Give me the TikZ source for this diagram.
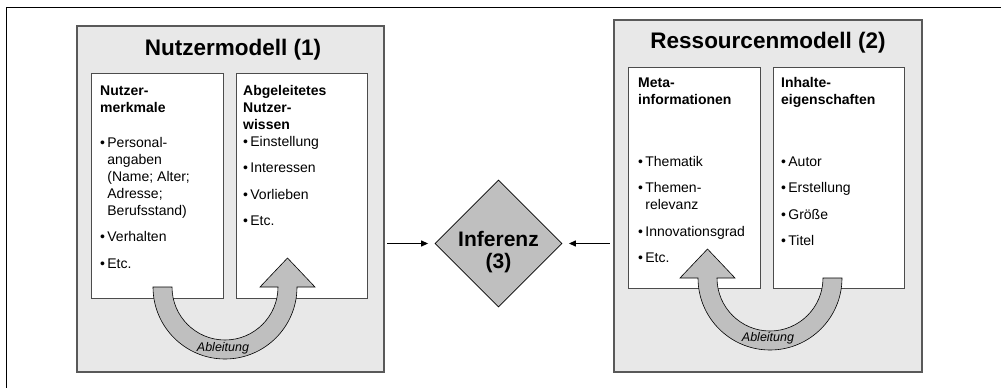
\documentclass[tikz,border=0pt]{standalone}
\usepackage{fontspec}
\setmainfont{Liberation Sans}
\usetikzlibrary{arrows.meta,shapes.geometric}
\newcommand{\boxhead}[1]{\multicolumn{2}{@{}l@{}}{\bfseries #1}}
\tikzset{
  panel/.style={draw=black!65, line width=1.5pt, fill=black!9, anchor=north west},
  infobox/.style={draw=black!70, line width=0.9pt, fill=white, anchor=north west},
  boxtext/.style={anchor=base west, inner sep=0pt, font=\fontsize{14}{17}\selectfont},
  paneltitle/.style={anchor=base, inner sep=0pt, font=\bfseries\fontsize{22.5}{27}\selectfont},
  ableitung/.style={draw=black, line width=0.6pt, fill=black!25},
  ablabel/.style={anchor=base, inner sep=0pt, font=\itshape\fontsize{12.5}{15}\selectfont},
  flow/.style={line width=1.2pt, -{Triangle[length=7pt,width=6pt]}},
}
\begin{document}
\begin{tikzpicture}[x=1pt,y=-1pt]
\clip (0,0) rectangle (1001,388);
% outer frame
\draw[line width=1pt] (6.5,7) rectangle (1010,400);
% panels
\node[panel, minimum width=307, minimum height=346] (lpanel) at (76,25) {};
\node[panel, minimum width=308, minimum height=352] (rpanel) at (613,19) {};
\node[paneltitle] (ltitle) at (233,55) {Nutzermodell (1)};
\node[paneltitle] (rtitle) at (768,48) {Ressourcenmodell (2)};
% inner boxes
\node[infobox, minimum width=132, minimum height=225] (merkmale) at (91,73) {};
\node[infobox, minimum width=131, minimum height=225] (wissen) at (236,73) {};
\node[infobox, minimum width=132, minimum height=221] (meta) at (628,67) {};
\node[infobox, minimum width=131, minimum height=221] (inhalte) at (773,67) {};
% box texts
\node[boxtext] (merkmaletxt) at (100,95) {\begin{tabular}[t]{@{}l@{\hspace{2.3pt}}l@{}}
\boxhead{Nutzer-}\\
\boxhead{merkmale}\\[18pt]
\textbullet & Personal-\\
 & angaben\\
 & (Name; Alter;\\
 & Adresse;\\
 & Berufsstand)\\[9.5pt]
\textbullet & Verhalten\\[9.5pt]
\textbullet & Etc.
\end{tabular}};
\node[boxtext] (wissentxt) at (243,95) {\begin{tabular}[t]{@{}l@{\hspace{2.3pt}}l@{}}
\boxhead{Abgeleitetes}\\
\boxhead{Nutzer-}\\
\boxhead{wissen}\\
\textbullet & Einstellung\\[9.5pt]
\textbullet & Interessen\\[9.5pt]
\textbullet & Vorlieben\\[9.5pt]
\textbullet & Etc.
\end{tabular}};
\node[boxtext] (metatxt) at (638,87) {\begin{tabular}[t]{@{}l@{\hspace{2.3pt}}l@{}}
\boxhead{Meta-}\\
\boxhead{informationen}\\[45pt]
\textbullet & Thematik\\[9.5pt]
\textbullet & Themen-\\
 & relevanz\\[9.5pt]
\textbullet & Innovationsgrad\\[9.5pt]
\textbullet & Etc.
\end{tabular}};
\node[boxtext] (inhaltetxt) at (781,87) {\begin{tabular}[t]{@{}l@{\hspace{2.3pt}}l@{}}
\boxhead{Inhalte-}\\
\boxhead{eigenschaften}\\[45pt]
\textbullet & Autor\\[9.5pt]
\textbullet & Erstellung\\[9.5pt]
\textbullet & Größe\\[9.5pt]
\textbullet & Titel
\end{tabular}};
% Ableitung arrows
\draw[ableitung] (153,287) arc[start angle=180, end angle=0, radius=72]
  -- (315,287) -- (287.5,258) -- (260,287) -- (278,287)
  arc[start angle=0, end angle=180, radius=53] -- cycle;
\draw[ableitung] (842,278) arc[start angle=0, end angle=180, radius=72]
  -- (680,278) -- (707.5,249) -- (735,278) -- (717,278)
  arc[start angle=180, end angle=0, radius=53] -- cycle;
\node[ablabel] (lablt) at (223,351.5) {Ableitung};
\node[ablabel] (rablt) at (768,341.5) {Ableitung};
% inference
\node[diamond, draw, line width=0.8pt, fill=black!25, minimum width=127, minimum height=127, inner sep=0pt] (dia) at (498.5,243.5) {};
\node[font=\bfseries\fontsize{21}{22}\selectfont, align=center, inner sep=0pt] (inf) at (498.5,252.5) {Inferenz\\(3)};
\draw[flow, shorten <=2.5pt, shorten >=6.5pt] (lpanel.east |- dia.west) -- (dia.west);
\draw[flow, shorten <=3.5pt, shorten >=6.5pt] (rpanel.west |- dia.east) -- (dia.east);
\end{tikzpicture}
\end{document}
